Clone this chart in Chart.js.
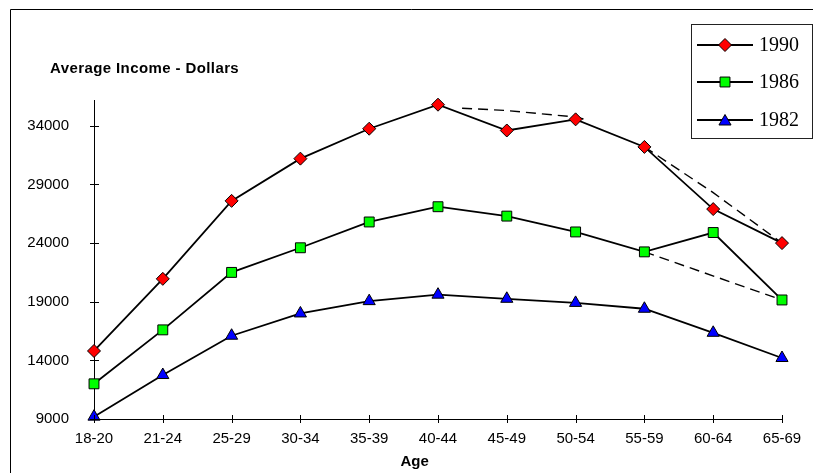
<!DOCTYPE html>
<html>
<head>
<meta charset="utf-8">
<title>Average Income by Age</title>
<script src="https://cdn.jsdelivr.net/npm/chart.js@4.4.1/dist/chart.umd.min.js"></script>
<style>
  html, body { margin: 0; padding: 0; background: #fff; }
  #wrap { position: relative; width: 813px; height: 473px; }
  canvas { display: block; }
</style>
</head>
<body>
<div id="wrap"><canvas id="chart" width="813" height="473"></canvas></div>
<script>
// Age groups along the horizontal axis
const ageGroups = ['18-20', '21-24', '25-29', '30-34', '35-39', '40-44', '45-49', '50-54', '55-59', '60-64', '65-69'];

// Average income in dollars per age group
const income1990 = [14800, 20950, 27600, 31200, 33750, 35800, 33600, 34550, 32200, 26900, 24000];
const income1986 = [12000, 16600, 21500, 23600, 25800, 27100, 26300, 24950, 23250, 24900, 19150];
const income1982 = [9200, 12750, 16100, 18000, 19050, 19600, 19250, 18900, 18400, 16350, 14200];

// Dashed connector paths (x in age-group index units)
const peakPathX = [5.35, 6, 7, 7.18];
const peakPathY = [35500, 35300, 34750, 34480];
const late1990X = [8, 9, 10];
const late1990Y = [32200, 28300, 24000];
const late1986X = [8, 10];
const late1986Y = [23250, 19150];

// Value axis labels
const yTicks = [9000, 14000, 19000, 24000, 29000, 34000];

const seriesNames = ['1990', '1986', '1982'];

const toPoints = (xs, ys) => ys.map((y, i) => ({ x: xs[i], y: y }));
const indexPoints = ys => ys.map((y, i) => ({ x: i, y: y }));

const lineColor = '#000000';

const mainSeries = [
  { label: seriesNames[0], data: indexPoints(income1990), pointStyle: 'rectRot', pointRadius: 6.5, pointBackgroundColor: '#FF0000' },
  { label: seriesNames[1], data: indexPoints(income1986), pointStyle: 'rect', pointRadius: 7, pointBackgroundColor: '#00FF00' },
  { label: seriesNames[2], data: indexPoints(income1982), pointStyle: 'triangle', pointRadius: 7, pointBackgroundColor: '#0000FF' }
].map(d => Object.assign({
  borderColor: lineColor,
  borderWidth: 1.8,
  pointBorderColor: '#000000',
  pointBorderWidth: 1,
  tension: 0,
  clip: false,
  order: 1
}, d));

const dashedSeries = [
  toPoints(peakPathX, peakPathY),
  toPoints(late1990X, late1990Y),
  toPoints(late1986X, late1986Y)
].map(pts => ({
  label: '',
  data: pts,
  borderColor: lineColor,
  borderWidth: 1.4,
  borderDash: [10, 6],
  pointRadius: 0,
  tension: 0,
  clip: false,
  order: 2
}));

// Outer frame, cross-style tick marks, axis titles and the boxed legend
const decorations = {
  id: 'decorations',
  beforeDraw(chart) {
    const ctx = chart.ctx;
    ctx.save();
    ctx.strokeStyle = '#000';
    ctx.lineWidth = 1;
    ctx.beginPath();
    ctx.moveTo(10.5, 473);
    ctx.lineTo(10.5, 9.5);
    ctx.lineTo(813, 9.5);
    ctx.stroke();
    ctx.restore();
  },
  afterDatasetsDraw(chart) {
    const ctx = chart.ctx;
    const xs = chart.scales.x, ys = chart.scales.y;
    const area = chart.chartArea;
    ctx.save();
    ctx.strokeStyle = '#000';
    ctx.lineWidth = 1;
    ctx.beginPath();
    xs.ticks.forEach(t => {
      const px = Math.round(xs.getPixelForValue(t.value)) + 0.5;
      ctx.moveTo(px, area.bottom - 4);
      ctx.lineTo(px, area.bottom + 4);
    });
    ys.ticks.forEach(t => {
      const py = Math.round(ys.getPixelForValue(t.value)) + 0.5;
      ctx.moveTo(area.left - 4, py);
      ctx.lineTo(area.left + 5, py);
    });
    ctx.stroke();

    // Axis titles
    ctx.fillStyle = '#000';
    ctx.font = 'bold 15px "Liberation Sans", Arial, sans-serif';
    ctx.textAlign = 'left';
    ctx.textBaseline = 'middle';
    if ('letterSpacing' in ctx) ctx.letterSpacing = '0.4px';
    ctx.fillText('Average Income - Dollars', area.left - 44, 69);
    if ('letterSpacing' in ctx) ctx.letterSpacing = '0px';
    ctx.font = 'bold 15px "Liberation Sans", Arial, sans-serif';
    ctx.textAlign = 'center';
    ctx.fillText('Age', area.left + (area.right - area.left) * 0.466, 462);

    // Legend box
    const bx = 691.5, by = 24.5, bw = 121, bh = 114;
    ctx.fillStyle = '#fff';
    ctx.fillRect(bx, by, bw, bh);
    ctx.strokeStyle = '#222';
    ctx.lineWidth = 1;
    ctx.strokeRect(bx, by, bw, bh);
    const rows = [45, 82, 120];
    mainSeries.forEach((ds, i) => {
      const y = rows[i];
      ctx.strokeStyle = lineColor;
      ctx.lineWidth = 1.8;
      ctx.beginPath();
      ctx.moveTo(697, y);
      ctx.lineTo(753, y);
      ctx.stroke();
      const opts = {
        pointStyle: ds.pointStyle,
        radius: ds.pointRadius,
        rotation: 0,
        borderWidth: 1
      };
      ctx.fillStyle = ds.pointBackgroundColor;
      ctx.strokeStyle = '#000';
      ctx.lineWidth = 1;
      Chart.helpers.drawPoint(ctx, opts, 725, ds.pointStyle === 'triangle' ? y + 1.5 : y);
      ctx.fillStyle = '#000';
      ctx.font = '20px "Liberation Serif", "Times New Roman", serif';
      ctx.textAlign = 'left';
      ctx.textBaseline = 'middle';
      ctx.fillText(ds.label, 759, y + 1);
    });
    ctx.restore();
  }
};

new Chart(document.getElementById('chart'), {
  type: 'line',
  data: { datasets: dashedSeries.concat(mainSeries) },
  options: {
    responsive: false,
    animation: false,
    devicePixelRatio: 1,
    layout: { padding: { top: 100, right: 31, left: 0, bottom: 0 } },
    plugins: { legend: { display: false }, tooltip: { enabled: false } },
    scales: {
      x: {
        type: 'linear',
        min: 0,
        max: 10,
        grid: { display: false, drawTicks: false },
        border: { display: true, color: '#000', width: 1 },
        ticks: {
          padding: 11,
          color: '#000',
          autoSkip: false,
          maxRotation: 0,
          font: { family: '"Liberation Sans", Arial, sans-serif', size: 15 },
          callback: v => ageGroups[v]
        },
        afterBuildTicks: s => { s.ticks = ageGroups.map((_, i) => ({ value: i })); },
        afterFit: s => { s.height = 54; }
      },
      y: {
        type: 'linear',
        min: 9000,
        max: 36200,
        grid: { display: false, drawTicks: false },
        border: { display: true, color: '#000', width: 1 },
        ticks: {
          padding: 25,
          color: '#000',
          font: { family: '"Liberation Sans", Arial, sans-serif', size: 15 },
          callback: v => String(v)
        },
        afterBuildTicks: s => { s.ticks = yTicks.map(v => ({ value: v })); },
        afterFit: s => { s.width = 94; }
      }
    }
  },
  plugins: [decorations]
});
</script>
</body>
</html>
